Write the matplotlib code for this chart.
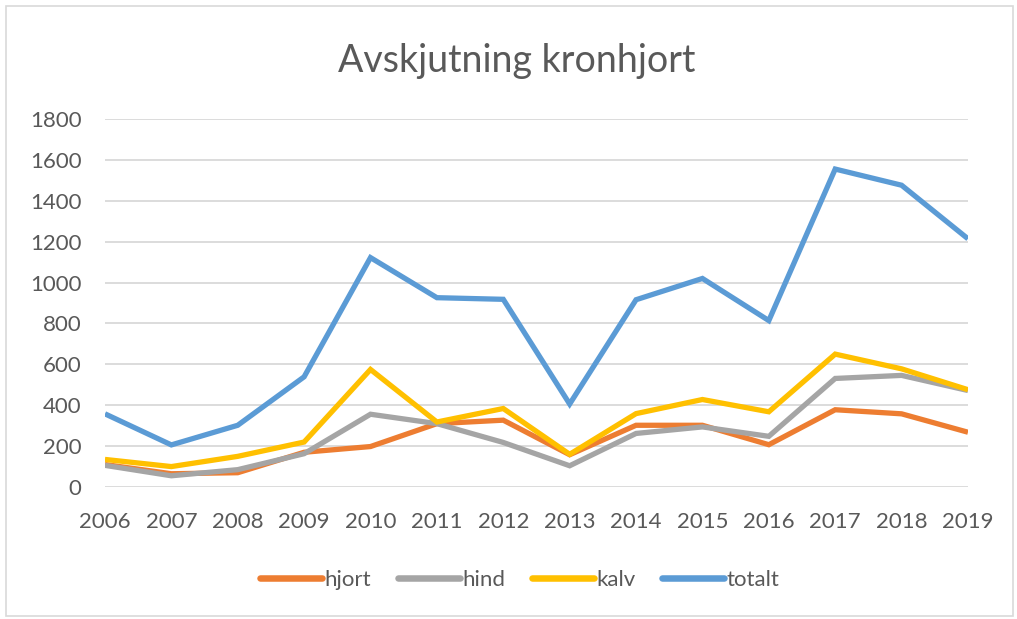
import matplotlib
matplotlib.use("Agg")
import matplotlib.pyplot as plt
from matplotlib.patches import Rectangle

years = [2006, 2007, 2008, 2009, 2010, 2011, 2012, 2013, 2014, 2015, 2016, 2017, 2018, 2019]
hjort = [110, 65, 70, 170, 198, 310, 327, 158, 302, 302, 207, 378, 358, 268]
hind = [106, 55, 85, 163, 356, 310, 218, 104, 262, 294, 248, 531, 546, 472]
kalv = [135, 100, 150, 220, 575, 318, 384, 160, 359, 428, 368, 650, 578, 476]
totalt = [358, 206, 302, 539, 1122, 926, 918, 406, 916, 1020, 814, 1555, 1476, 1214]

series_names = ["hjort", "hind", "kalv", "totalt"]
colors = ["#ED7D31", "#A5A5A5", "#FFC000", "#5B9BD5"]
yticks = [0, 200, 400, 600, 800, 1000, 1200, 1400, 1600, 1800]

plt.rcParams['font.family'] = ['Lato', 'DejaVu Sans']
txt = "#595959"

fig = plt.figure(figsize=(10.17, 6.19), dpi=100)
fig.patches.append(Rectangle((0.006, 0.005), 0.99, 0.985, transform=fig.transFigure,
                             fill=False, edgecolor="#D9D9D9", linewidth=1.2))

ax = fig.add_axes([0.1032, 0.2132, 0.8486, 0.5946])
for name, vals, c in zip(series_names, [hjort, hind, kalv, totalt], colors):
    ax.plot(years, vals, color=c, linewidth=3.8, label=name, solid_capstyle="butt",
            solid_joinstyle="miter")

ax.set_xlim(years[0], years[-1])
ax.set_ylim(0, 1800)
ax.set_yticks(yticks)
ax.set_xticks(years)
ax.set_xticklabels([str(y) for y in years])
ax.grid(axis="y", color="#D9D9D9", linewidth=1.3)
ax.set_axisbelow(True)
for s in ax.spines.values():
    s.set_visible(False)
ax.tick_params(axis="both", length=0, labelsize=16, colors=txt)
ax.tick_params(axis="y", pad=17)
ax.tick_params(axis="x", pad=18)

fig.text(0.508, 0.902, "Avskjutning kronhjort", ha="center", va="center",
         fontsize=27, color=txt)

leg = fig.legend(loc="center", bbox_to_anchor=(0.511, 0.063), ncol=4, frameon=False,
                 fontsize=16, handlelength=2.8, handletextpad=0.1, columnspacing=1.2,
                 labelcolor=txt)
for h in leg.get_lines():
    h.set_linewidth(4.7)
    h.set_solid_capstyle("round")

fig.savefig("out.png", dpi=100)
